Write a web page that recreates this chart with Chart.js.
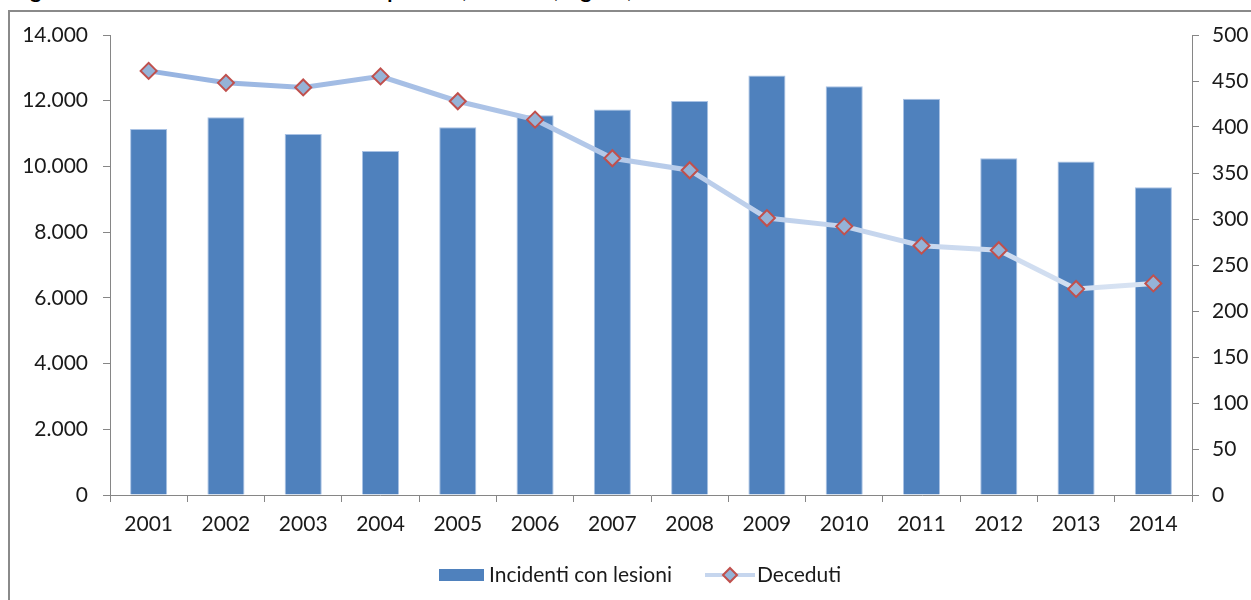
<!DOCTYPE html>
<html lang="it">
<head>
<meta charset="utf-8">
<title>Incidenti con lesioni e deceduti</title>
<script src="https://cdn.jsdelivr.net/npm/chart.js@4/dist/chart.umd.min.js"></script>
<style>
  body { margin: 0; background: #fff; overflow: hidden; }
  #titolo {
    position: absolute; left: 13px; top: -20px; white-space: nowrap;
    font: bold 21px Lato, sans-serif; line-height: 20px; color: #000;
  }
  #cornice {
    position: absolute; left: 8px; top: 10px; width: 1300px; height: 700px;
    border: 2px solid #8a8a8a; box-sizing: border-box;
  }
  #grafico { position: absolute; left: 0; top: 0; }
</style>
</head>
<body>
<div id="titolo">Figura 1 - Incidenti stradali con lesioni a persone, deceduti, Liguria, 2001-2014</div>
<div id="cornice"></div>
<canvas id="grafico" width="1251" height="600"></canvas>
<script>
// Dati
var anni = ["2001", "2002", "2003", "2004", "2005", "2006", "2007",
            "2008", "2009", "2010", "2011", "2012", "2013", "2014"];
var incidenti = [11140, 11500, 10990, 10470, 11190, 11560, 11730,
                 11990, 12770, 12440, 12060, 10250, 10150, 9370];
var deceduti = [461, 448, 443, 455, 428, 408, 366, 353, 301, 292, 271, 266, 224, 230];

var FONT = "Lato, sans-serif";
var BLU = "#4f81bd";
var GRIGIO = "#868686";

// separatore delle migliaia all'italiana
function migliaia(v) {
    return String(v).replace(/\B(?=(\d{3})+(?!\d))/g, ".");
}

// disegna un rombo come quello dei marker
function rombo(ctx, x, y, r) {
    ctx.beginPath();
    ctx.moveTo(x, y - r);
    ctx.lineTo(x + r, y);
    ctx.lineTo(x, y + r);
    ctx.lineTo(x - r, y);
    ctx.closePath();
    ctx.fillStyle = "#95b3d7";
    ctx.fill();
    ctx.lineWidth = 2;
    ctx.strokeStyle = "#c0504d";
    ctx.stroke();
}

// legenda disegnata a mano in basso
var legendaManuale = {
    id: "legendaManuale",
    afterDraw: function (chart) {
        var ctx = chart.ctx;
        var y = 575;
        ctx.save();
        ctx.font = "21px " + FONT;
        ctx.textBaseline = "middle";

        ctx.fillStyle = BLU;
        ctx.fillRect(439, y - 6, 45, 12);
        ctx.fillStyle = "#1a1a1a";
        ctx.fillText("Incidenti con lesioni", 489, y);

        ctx.beginPath();
        ctx.moveTo(705, y);
        ctx.lineTo(755, y);
        ctx.lineWidth = 4;
        ctx.strokeStyle = "#c6d6ee";
        ctx.stroke();
        rombo(ctx, 730, y, 7);
        ctx.fillStyle = "#1a1a1a";
        ctx.fillText("Deceduti", 757, y);
        ctx.restore();
    }
};

// sfumatura della linea, più chiara verso destra
function coloreLinea(context) {
    var area = context.chart.chartArea;
    if (!area) return "#a9c1e6";
    var g = context.chart.ctx.createLinearGradient(area.left, 0, area.right, 0);
    g.addColorStop(0, "#93b1e0");
    g.addColorStop(1, "#dbe5f3");
    return g;
}

var tickFont = { family: FONT, size: 21 };

new Chart(document.getElementById("grafico").getContext("2d"), {
    type: "bar",
    data: {
        labels: anni,
        datasets: [{
            type: "line",
            label: "Deceduti",
            data: deceduti,
            yAxisID: "y1",
            order: 1,
            borderColor: coloreLinea,
            borderWidth: 5,
            tension: 0,
            pointStyle: "rectRot",
            pointRadius: 8,
            pointHoverRadius: 8,
            pointBackgroundColor: "#95b3d7",
            pointBorderColor: "#c0504d",
            pointBorderWidth: 2
        }, {
            label: "Incidenti con lesioni",
            data: incidenti,
            yAxisID: "y",
            order: 2,
            backgroundColor: BLU,
            borderColor: "#a9c2e4",
            borderWidth: 1,
            categoryPercentage: 1,
            barPercentage: 0.48
        }]
    },
    options: {
        responsive: false,
        animation: false,
        layout: { padding: { top: 35, left: 0, right: 0, bottom: 0 } },
        plugins: {
            legend: { display: false },
            tooltip: { enabled: false }
        },
        scales: {
            x: {
                offset: true,
                border: { color: GRIGIO, width: 1 },
                grid: { drawOnChartArea: false, color: GRIGIO, tickLength: 7, offset: true },
                ticks: { font: tickFont, color: "#1a1a1a", padding: 10, maxRotation: 0 },
                afterFit: function (s) { s.height = 105; }
            },
            y: {
                position: "left",
                min: 0,
                max: 14000,
                border: { color: GRIGIO, width: 1 },
                grid: { drawOnChartArea: false, color: GRIGIO, tickLength: 7 },
                ticks: {
                    stepSize: 2000,
                    font: tickFont,
                    color: "#1a1a1a",
                    padding: 15,
                    callback: function (v) { return migliaia(v); }
                },
                afterFit: function (s) { s.width = 110; }
            },
            y1: {
                position: "right",
                min: 0,
                max: 500,
                border: { color: GRIGIO, width: 1 },
                grid: { drawOnChartArea: false, color: GRIGIO, tickLength: 7 },
                ticks: { stepSize: 50, font: tickFont, color: "#1a1a1a", padding: 13 },
                afterFit: function (s) { s.width = 59; }
            }
        }
    },
    plugins: [legendaManuale]
});
</script>
</body>
</html>
